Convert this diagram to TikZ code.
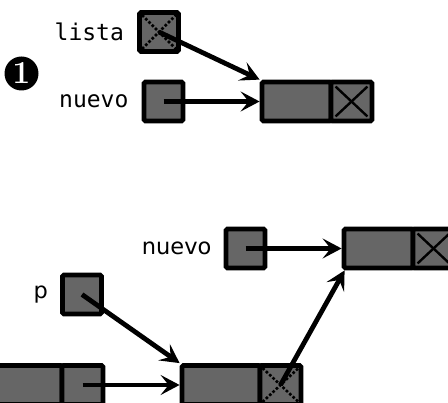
\documentclass[tikz,border=0pt]{standalone}
\usepackage{fontspec}
\setsansfont{DejaVu Sans}
\setmonofont{DejaVu Sans Mono}
\usepackage{tikz}
\usepackage{xcolor}
\usetikzlibrary{arrows.meta}
\usetikzlibrary{positioning}

\definecolor{cellgray}{HTML}{666666}

\tikzset{
  cell/.style={draw=black, fill=cellgray, line width=4.8pt, rounded corners=1.5pt,
    minimum width=39pt, minimum height=39pt, inner sep=0pt},
  datacell/.style={cell, minimum width=69pt},
  nextcell/.style={cell, minimum width=41pt, anchor=west, xshift=-4.8pt},
  link/.style={line width=4.8pt, -{Stealth[length=19pt,width=20pt,inset=8pt]}},
  crossed/.style={line width=2.4pt},
  dotcross/.style={line width=2.6pt, dotted},
  lbl/.style={inner sep=0pt}
}

\begin{document}
\begin{tikzpicture}[x=1pt, y=-1pt]
\clip (0,0) rectangle (448,403);

% step 1
\node[circle, fill=black, text=white, minimum size=34pt, inner sep=0pt,
  font=\fontsize{32}{32}\selectfont\bfseries] (bullet) at (21.5,73.5) {1};

\node[cell] (lista) at (159,32) {};
\node[lbl, font=\fontsize{23}{23}\selectfont\ttfamily, left=13pt of lista] (listalbl) {lista};
\node[cell] (nuevoA) at (163.5,101.5) {};
\node[lbl, font=\fontsize{23}{23}\selectfont\ttfamily, left=13pt of nuevoA] (nuevoAlbl) {nuevo};
\node[datacell] (newdata) at (296.5,101.5) {};
\node[nextcell] (newnext) at (newdata.east) {};

\draw[dotcross] ([shift={(5pt,-5pt)}]lista.north west) -- ([shift={(-5pt,5pt)}]lista.south east);
\draw[dotcross] ([shift={(5pt,5pt)}]lista.south west) -- ([shift={(-5pt,-5pt)}]lista.north east);
\draw[crossed] ([shift={(7pt,-7pt)}]newnext.north west) -- ([shift={(-7pt,7pt)}]newnext.south east);
\draw[crossed] ([shift={(7pt,7pt)}]newnext.south west) -- ([shift={(-7pt,-7pt)}]newnext.north east);

\draw[link] (lista.center) -- (newdata.north west);
\draw[link] (nuevoA.center) -- (newdata.west);

% step 2
\node[cell] (nuevoB) at (245.5,248.5) {};
\node[lbl, font=\fontsize{22.5}{22.5}\selectfont\sffamily, left=12pt of nuevoB] (nuevoBlbl) {nuevo};
\node[datacell] (rdata) at (378.5,248.5) {};
\node[nextcell] (rnext) at (rdata.east) {};

\node[cell] (p) at (82,294.5) {};
\node[lbl, font=\fontsize{22.5}{22.5}\selectfont\sffamily, left=12pt of p] (plbl) {p};

\node[datacell] (ldata) at (27.5,385) {};
\node[nextcell] (lnext) at (ldata.east) {};
\node[datacell, minimum width=78pt] (mdata) at (221,385) {};
\node[nextcell] (mnext) at (mdata.east) {};

\draw[crossed] ([shift={(7pt,-7pt)}]rnext.north west) -- ([shift={(-7pt,7pt)}]rnext.south east);
\draw[crossed] ([shift={(7pt,7pt)}]rnext.south west) -- ([shift={(-7pt,-7pt)}]rnext.north east);
\draw[dotcross] ([shift={(5pt,-5pt)}]mnext.north west) -- ([shift={(-5pt,5pt)}]mnext.south east);
\draw[dotcross] ([shift={(5pt,5pt)}]mnext.south west) -- ([shift={(-5pt,-5pt)}]mnext.north east);

\draw[link] (nuevoB.center) -- (rdata.west);
\draw[link] (p.center) -- (mdata.north west);
\draw[link] (lnext.center) -- (mdata.west);
\draw[link] (mnext.center) -- ([shift={(3pt,0pt)}]rdata.south west);
\end{tikzpicture}
\end{document}
